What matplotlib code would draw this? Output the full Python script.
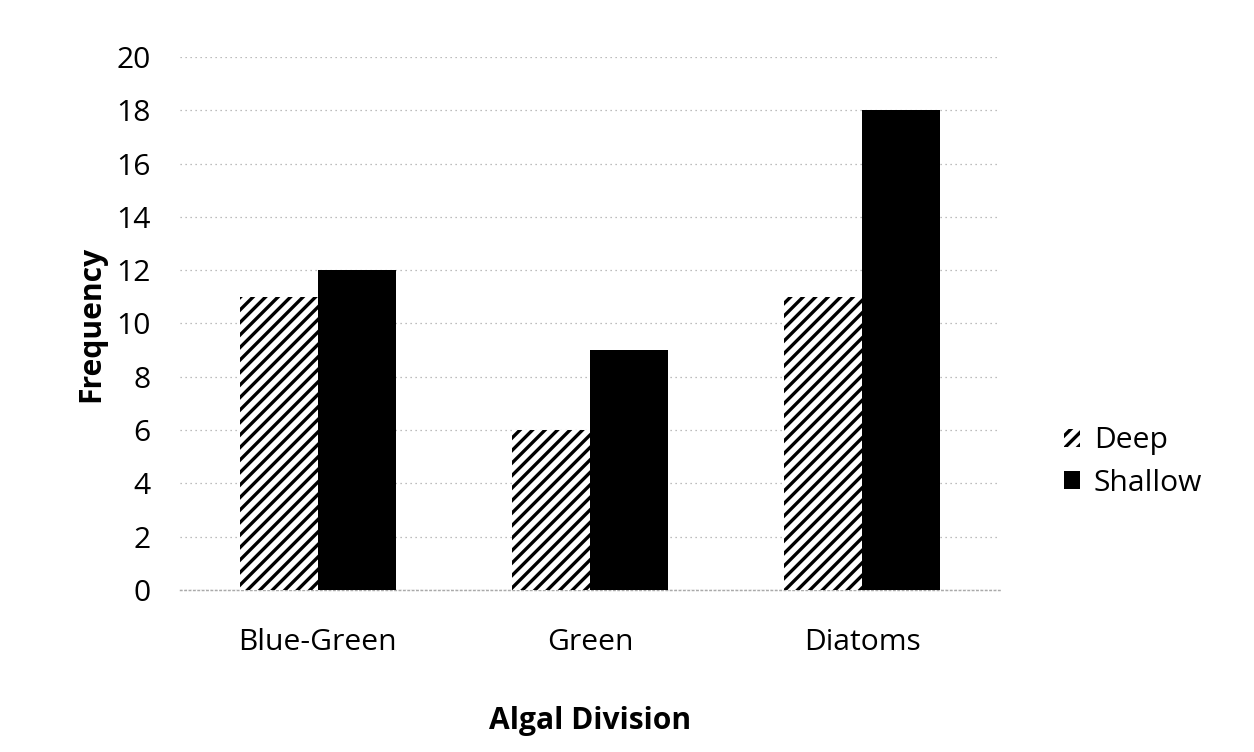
import matplotlib
matplotlib.use("Agg")
import matplotlib.pyplot as plt
import numpy as np
from matplotlib.patches import Patch

categories = ["Blue-Green", "Green", "Diatoms"]
deep = [11, 6, 11]
shallow = [12, 9, 18]
yticks = [0, 2, 4, 6, 8, 10, 12, 14, 16, 18, 20]

plt.rcParams['font.family'] = ['Open Sans', 'DejaVu Sans']
plt.rcParams['hatch.linewidth'] = 1.6
plt.rcParams['hatch.color'] = 'black'

dpi = 150
fig = plt.figure(figsize=(1254 / dpi, 752 / dpi), dpi=dpi)
ax = fig.add_axes([180 / 1254, 1 - 590 / 752, 820 / 1254, 533 / 752])

fs = 14.4
x = np.arange(len(categories))
w = 0.288
ax.bar(x - w / 2, deep, w, facecolor='white', edgecolor='black', linewidth=0,
       hatch='////', label='Deep', zorder=3)
ax.bar(x + w / 2, shallow, w, color='black', edgecolor='none', label='Shallow', zorder=3)

ax.set_xlim(-0.507, 2.507)
ax.set_ylim(0, 20)
ax.set_yticks(yticks)
ax.set_xticks(x)
ax.set_xticklabels(categories)
ax.tick_params(axis='both', length=0, labelsize=fs, colors='black')
ax.tick_params(axis='y', pad=14)
ax.tick_params(axis='x', pad=18)
ax.yaxis.grid(True, color='#a8a8a8', linestyle=(0, (1, 3)), linewidth=0.6, zorder=0)
for s in ['top', 'right', 'left']:
    ax.spines[s].set_visible(False)
ax.spines['bottom'].set_color('#aaaaaa')
ax.spines['bottom'].set_linestyle((0, (1, 2)))
ax.spines['bottom'].set_linewidth(0.7)

ax.set_ylabel('Frequency', fontsize=fs, fontweight='bold', labelpad=5)
ax.set_xlabel('Algal Division', fontsize=fs, fontweight='bold', labelpad=24)

handles = [Patch(facecolor='white', edgecolor='black', linewidth=0, hatch='////', label='Deep'),
           Patch(facecolor='black', edgecolor='none', label='Shallow')]
ax.legend(handles=handles, loc='center left', bbox_to_anchor=(1.063, 0.24),
          frameon=False, fontsize=fs, handlelength=0.55, handleheight=0.55,
          handletextpad=0.45, labelspacing=0.45, borderaxespad=0)

fig.savefig('out.png', dpi=dpi)
